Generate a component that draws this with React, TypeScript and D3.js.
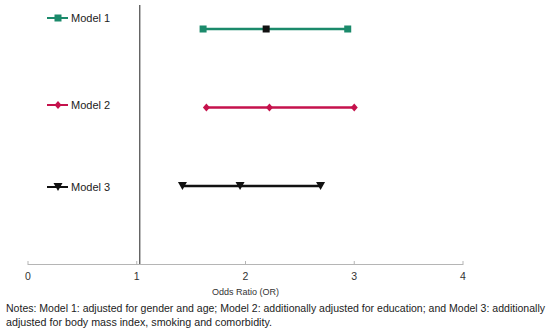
import * as d3 from "d3";
import React from "react";

const models = ["Model 1", "Model 2", "Model 3"];
const lower = [1.61, 1.64, 1.42];
const estimate = [2.19, 2.22, 1.95];
const upper = [2.94, 3.0, 2.69];
const colors = ["#1b8a6b", "#c5124c", "#111111"];
const ticks = [0, 1, 2, 3, 4];
const notes = [
	"Notes: Model 1: adjusted for gender and age; Model 2: additionally adjusted for education; and Model 3: additionally",
	"adjusted for body mass index, smoking and comorbidity.",
];
const noteWidths = [539, 266];

const W = 550;
const H = 332;

const Marker = ({ i, x, y, fill }: { i: number; x: number; y: number; fill: string }) => {
	if (i === 0) return <rect x={x - 3.5} y={y - 3.5} width={7} height={7} fill={fill} />;
	if (i === 1)
		return <path d={`M${x},${y - 4}L${x + 3.5},${y}L${x},${y + 4}L${x - 3.5},${y}Z`} fill={fill} />;
	return <path d={`M${x - 4.5},${y - 4}L${x + 4.5},${y - 4}L${x},${y + 4}Z`} fill={fill} />;
};

export default function App() {
	const x = d3.scaleLinear().domain([0, 4]).range([28, 463]);
	const y = d3.scalePoint<string>().domain(models).range([29, 186]);
	const legendY = [18, 105, 187];
	const font = "'Liberation Sans', Arial, sans-serif";

	return (
		<svg
			width={W}
			height={H}
			style={{ position: "absolute", left: 0, top: 0, background: "#fff" }}
			fontFamily={font}
		>
			{/* reference line at OR = 1 */}
			<line x1={x(1) + 3} x2={x(1) + 3} y1={5} y2={265} stroke="#555" strokeWidth={1.3} />

			{/* x axis */}
			<line x1={x(0)} x2={x(4)} y1={264.5} y2={264.5} stroke="#b5b5b5" strokeWidth={1} />
			{ticks.map((t) => (
				<g key={t}>
					<line x1={x(t)} x2={x(t)} y1={261} y2={265} stroke="#b5b5b5" />
					<text x={x(t)} y={280} textAnchor="middle" fontSize={10.5} fill="#333">
						{t}
					</text>
				</g>
			))}
			<text x={x(2)} y={295} textAnchor="middle" fontSize={9} fill="#333">
				Odds Ratio (OR)
			</text>

			{models.map((m, i) => {
				const yy = y(m)!;
				const c = colors[i];
				return (
					<g key={m}>
						<line x1={x(lower[i])} x2={x(upper[i])} y1={yy} y2={yy} stroke={c} strokeWidth={2.5} />
						<Marker i={i} x={x(lower[i])} y={yy} fill={c} />
						<Marker i={i} x={x(estimate[i])} y={yy} fill={i === 0 ? "#111" : c} />
						<Marker i={i} x={x(upper[i])} y={yy} fill={c} />
						{/* legend */}
						<line x1={47} x2={68} y1={legendY[i]} y2={legendY[i]} stroke={c} strokeWidth={2} />
						<Marker i={i} x={58} y={legendY[i]} fill={c} />
						<text x={71} y={legendY[i] + 4} fontSize={11} fill="#222">
							{m}
						</text>
					</g>
				);
			})}

			{notes.map((n, i) => (
				<text
					key={i}
					x={6}
					y={312 + i * 14}
					fontSize={10.3}
					fill="#222"
					textLength={noteWidths[i]}
					lengthAdjust="spacingAndGlyphs"
				>
					{n}
				</text>
			))}
		</svg>
	);
}
